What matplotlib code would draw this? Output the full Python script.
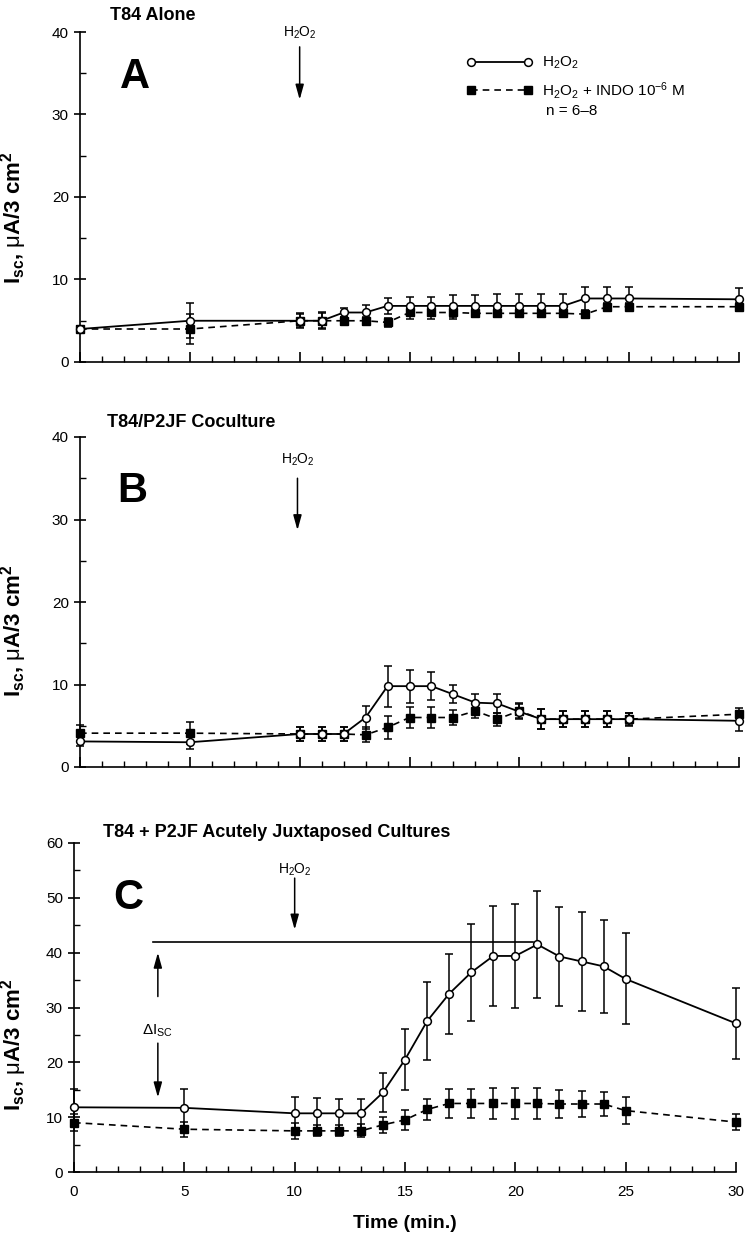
import matplotlib
matplotlib.use("Agg")
import matplotlib.pyplot as plt
from matplotlib.ticker import MultipleLocator

plt.rcParams['font.family'] = ['Liberation Sans', 'DejaVu Sans']
plt.rcParams['mathtext.fontset'] = 'custom'
plt.rcParams['mathtext.rm'] = 'Liberation Sans'
plt.rcParams['mathtext.it'] = 'Liberation Sans:italic'
plt.rcParams['mathtext.bf'] = 'Liberation Sans:bold'

# sampling times (min)
time_min = [0, 5, 10, 11, 12, 13, 14, 15, 16, 17, 18, 19, 20, 21, 22, 23, 24, 25, 30]

# panel A - T84 alone
a_h2o2 = [4.0, 5.0, 5.0, 5.0, 6.0, 6.0, 6.8, 6.8, 6.8, 6.8, 6.8, 6.8, 6.8, 6.8, 6.8, 7.7, 7.7, 7.7, 7.6]
a_h2o2_err = [0.4, 2.1, 0.8, 0.9, 0.6, 0.9, 1.0, 1.1, 1.1, 1.3, 1.3, 1.4, 1.4, 1.4, 1.4, 1.4, 1.4, 1.4, 1.4]
a_indo = [4.0, 4.0, 5.0, 5.0, 5.0, 5.0, 4.8, 6.0, 6.0, 6.0, 5.9, 5.9, 5.9, 5.9, 5.9, 5.8, 6.7, 6.7, 6.7]
a_indo_err = [0.4, 1.8, 0.9, 1.0, 0.5, 0.5, 0.5, 0.8, 0.8, 0.8, 0.5, 0.5, 0.5, 0.5, 0.5, 0.3, 0.4, 0.4, 0.4]

# panel B - T84/P2JF coculture
b_h2o2 = [3.1, 3.0, 4.0, 4.0, 4.0, 6.0, 9.8, 9.8, 9.8, 8.8, 7.8, 7.7, 6.7, 5.8, 5.8, 5.8, 5.8, 5.8, 5.6]
b_h2o2_err = [0.5, 0.8, 0.8, 0.8, 0.8, 1.4, 2.5, 2.0, 1.7, 1.1, 1.1, 1.1, 0.9, 1.2, 1.0, 1.0, 1.0, 0.8, 1.2]
b_indo = [4.1, 4.1, 4.0, 4.0, 4.0, 3.9, 4.8, 6.0, 6.0, 6.0, 6.8, 5.8, 6.8, 5.8, 5.8, 5.8, 5.8, 5.8, 6.4]
b_indo_err = [1.0, 1.3, 0.9, 0.8, 0.8, 0.9, 1.4, 1.3, 1.3, 0.9, 0.8, 0.8, 0.9, 1.2, 1.0, 1.0, 1.0, 0.7, 0.8]

# panel C - acutely juxtaposed cultures
c_h2o2 = [11.8, 11.7, 10.7, 10.7, 10.7, 10.7, 14.5, 20.5, 27.5, 32.5, 36.4, 39.4, 39.4, 41.5, 39.3, 38.4, 37.5, 35.2, 27.1]
c_h2o2_err = [3.3, 3.4, 3.0, 2.8, 2.7, 2.6, 3.6, 5.5, 7.1, 7.3, 8.9, 9.1, 9.5, 9.7, 9.1, 9.0, 8.5, 8.3, 6.5]
c_indo = [9.0, 7.8, 7.5, 7.5, 7.5, 7.5, 8.6, 9.5, 11.4, 12.5, 12.5, 12.5, 12.5, 12.5, 12.4, 12.4, 12.4, 11.2, 9.1]
c_indo_err = [1.6, 1.4, 1.4, 1.0, 1.0, 1.2, 1.4, 1.8, 2.0, 2.6, 2.6, 2.8, 2.8, 2.8, 2.5, 2.4, 2.2, 2.4, 1.5]

# delta Isc reference in panel C
delta_level = 42
delta_start, delta_end = 3.6, 20.8

H2O2 = 'H$_2$O$_2$'
YLABEL = r'I$_{\mathbf{sc}}$, $\mathrm{μ}$A/3 cm$^{\mathbf{2}}$'

W, H = 746, 1239
fig = plt.figure(figsize=(W / 100, H / 100), dpi=100)


def px_axes(left, top, right, bottom):
    return fig.add_axes([left / W, 1 - bottom / H, (right - left) / W, (bottom - top) / H])


def style_axes(ax, ymax, show_xlabels):
    ax.set_xlim(0, 30)
    ax.set_ylim(0, ymax)
    for s in ('top', 'right'):
        ax.spines[s].set_visible(False)
    ax.spines['left'].set_linewidth(1.2)
    ax.spines['bottom'].set_linewidth(1.2)
    ax.xaxis.set_major_locator(MultipleLocator(5))
    ax.xaxis.set_minor_locator(MultipleLocator(1))
    ax.yaxis.set_major_locator(MultipleLocator(10))
    ax.yaxis.set_minor_locator(MultipleLocator(5))
    ax.tick_params(axis='x', which='major', direction='in', length=7, width=1.2,
                   labelsize=11, pad=9)
    ax.tick_params(axis='x', which='minor', direction='in', length=4, width=1.0)
    ax.tick_params(axis='y', which='major', direction='inout', length=8, width=1.2,
                   labelsize=11, pad=4)
    ax.tick_params(axis='y', which='minor', direction='in', length=4, width=1.0)
    if not show_xlabels:
        ax.tick_params(axis='x', labelbottom=False)


def draw_series(ax, h2o2, h2o2_err, indo, indo_err):
    kw = dict(fmt='none', ecolor='black', elinewidth=1.1, capsize=2.6, capthick=1.1)
    for vals, errs in ((indo, indo_err), (h2o2, h2o2_err)):
        eb = ax.errorbar(time_min, vals, yerr=errs, zorder=2, **kw)
        for part in eb.lines:
            for art in (part if isinstance(part, tuple) else (part,)):
                if art is not None:
                    art.set_clip_on(False)
    l_indo, = ax.plot(time_min, indo, linestyle=(0, (4, 3)), color='black', lw=1.2,
                      marker='s', ms=5.8, mfc='black', mec='black', clip_on=False, zorder=3)
    l_h2o2, = ax.plot(time_min, h2o2, linestyle='-', color='black', lw=1.3,
                      marker='o', ms=5.6, mfc='white', mec='black', mew=1.1,
                      clip_on=False, zorder=4)
    return l_h2o2, l_indo


def h2o2_arrow(ax, x, y_text, y_from, y_to):
    ax.text(x, y_text, H2O2, ha='center', va='center', fontsize=10)
    ax.annotate('', xy=(x, y_to), xytext=(x, y_from),
                arrowprops=dict(arrowstyle='-|>,head_length=0.9,head_width=0.25',
                                color='black', lw=1.1, mutation_scale=10,
                                shrinkA=0, shrinkB=0))


ax_a = px_axes(80, 32, 739, 362)
ax_b = px_axes(80, 437, 739, 767)
ax_c = px_axes(74, 843, 736, 1172)

style_axes(ax_a, 40, False)
style_axes(ax_b, 40, False)
style_axes(ax_c, 60, True)

la1, la2 = draw_series(ax_a, a_h2o2, a_h2o2_err, a_indo, a_indo_err)
draw_series(ax_b, b_h2o2, b_h2o2_err, b_indo, b_indo_err)
draw_series(ax_c, c_h2o2, c_h2o2_err, c_indo, c_indo_err)

# titles and panel letters
ax_a.text(1.37, 42, 'T84 Alone', fontsize=13, fontweight='bold', va='center', clip_on=False)
ax_b.text(1.23, 41.7, 'T84/P2JF Coculture', fontsize=13, fontweight='bold', va='center', clip_on=False)
ax_c.text(1.3, 61.9, 'T84 + P2JF Acutely Juxtaposed Cultures', fontsize=13, fontweight='bold',
          va='center', clip_on=False)
ax_a.text(2.5, 34.5, 'A', fontsize=30, fontweight='bold', ha='center', va='center')
ax_b.text(2.4, 33.5, 'B', fontsize=30, fontweight='bold', ha='center', va='center')
ax_c.text(2.45, 50, 'C', fontsize=30, fontweight='bold', ha='center', va='center')

h2o2_arrow(ax_a, 10, 39.9, 38.2, 31.8)
h2o2_arrow(ax_b, 9.9, 37.2, 35.0, 28.7)
h2o2_arrow(ax_c, 10, 55.1, 53.6, 44.2)

# legend in panel A
ax_a.legend([la1, la2], [H2O2, H2O2 + ' + INDO 10$^{-6}$ M'], loc='upper left',
            bbox_to_anchor=(0.587, 0.93), frameon=False, numpoints=2, fontsize=11,
            handlelength=4.3, handletextpad=0.6, labelspacing=0.55, borderpad=0,
            borderaxespad=0)
ax_a.text(21.2, 30.4, 'n = 6–8', fontsize=11, va='center')

# delta Isc marker in panel C
ax_c.plot([delta_start, delta_end], [delta_level, delta_level], color='black', lw=1.2)
arrow_kw = dict(arrowstyle='-|>,head_length=0.9,head_width=0.25', color='black', lw=1.1,
                mutation_scale=10, shrinkA=0, shrinkB=0)
ax_c.annotate('', xy=(3.8, 40.0), xytext=(3.8, 32.0), arrowprops=arrow_kw)
ax_c.annotate('', xy=(3.8, 13.6), xytext=(3.8, 23.5), arrowprops=arrow_kw)
ax_c.text(3.8, 25.8, 'ΔI$_{\\mathrm{SC}}$', fontsize=11, ha='center', va='center')

# axis labels
for yc in (218, 631, 1045):
    fig.text(14 / W, 1 - yc / H, YLABEL, rotation=90, ha='center', va='center',
             fontsize=16, fontweight='bold')
fig.text(405 / W, 1 - 1223 / H, 'Time (min.)', ha='center', va='center',
         fontsize=14, fontweight='bold')

fig.savefig('out.png', dpi=100)
